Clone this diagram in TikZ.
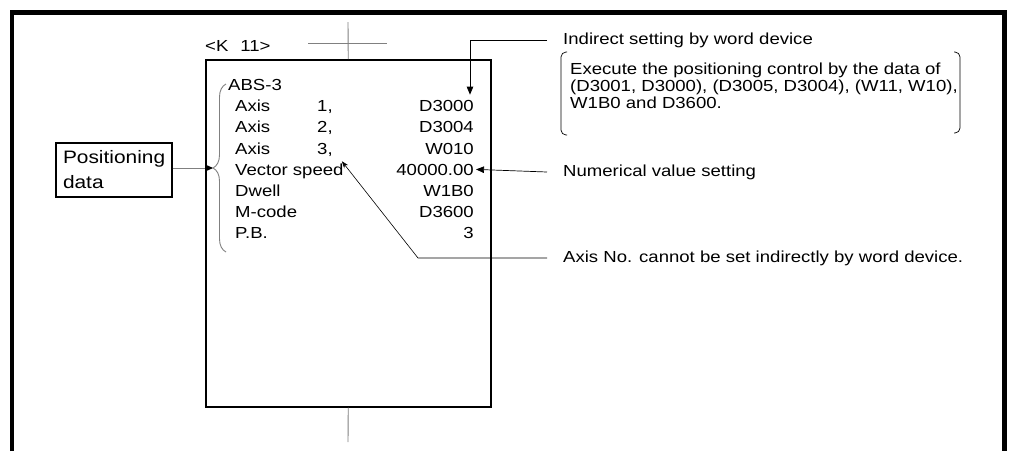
\documentclass[tikz,border=0pt]{standalone}
\usepackage{fontspec}
\setmainfont{Liberation Sans}[FakeStretch=1.16]
\usepackage{tikz}
\usetikzlibrary{arrows.meta, positioning, calc, decorations.pathreplacing}
\definecolor{mygray}{RGB}{128,128,128}
\tikzset{
  frame/.style={line width=4.5pt, color=black, line join=miter},
  progbox/.style={rectangle, draw=black, line width=1.5pt, inner sep=0pt},
  row/.style={inner sep=0pt, text height=11.5pt, text depth=0pt,
    font=\fontsize{16}{16}\selectfont},
  note/.style={anchor=west, inner sep=0pt, font=\fontsize{16}{17}\selectfont},
  databox/.style={rectangle, draw=black, line width=1.2pt, align=left,
    text width=102pt, minimum width=116pt, minimum height=54pt,
    inner xsep=7pt, inner ysep=0pt, font=\fontsize{18}{25}\selectfont},
  arrow/.style={-{Triangle[length=8pt, width=6.5pt]}, line width=0.7pt, color=black},
  smallarrow/.style={-{Stealth[length=7pt, width=5pt]}, line width=0.6pt, color=black},
  grayarrow/.style={-{Triangle[length=8pt, width=7pt, color=black]}, line width=0.9pt, color=mygray},
  guide/.style={line width=0.9pt, color=mygray},
  leader/.style={line width=0.7pt, color=black}
}

\begin{document}
\begin{tikzpicture}[x=1pt, y=-1pt, node distance=9.2pt]
  \useasboundingbox (0,0) rectangle (1009,451);
  \draw[frame] (12,451) -- (12,12.5) -- (1004.5,12.5) -- (1004.5,451);

  % program box
  \node[progbox, minimum width=285pt, minimum height=347pt, anchor=north west] (prog) at (205,59) {};
  \draw[guide] (prog.north) -- (348,22);
  \draw[guide] (308,43) -- (387,43);
  \draw[guide] (prog.south) -- (348,442);
  \node[row, anchor=west] (klabel) at (205,46) {<K\hspace{12pt}11>};

  \coordinate (ncol) at (317,0);
  \coordinate (vcol) at (474,0);
  \node[row, anchor=west] (abs) at (228,85) {ABS-3};
  \node[row, below=of abs.south west, anchor=north west, xshift=7pt] (a1) {Axis};
  \node[row, below=of a1.south west, anchor=north west] (a2) {Axis};
  \node[row, below=of a2.south west, anchor=north west] (a3) {Axis};
  \node[row, below=of a3.south west, anchor=north west] (a4) {Vector speed};
  \node[row, below=of a4.south west, anchor=north west] (a5) {Dwell};
  \node[row, below=of a5.south west, anchor=north west] (a6) {M-code};
  \node[row, below=of a6.south west, anchor=north west] (a7) {P.B.};
  \node[row, anchor=west] (n1) at (a1.west -| ncol) {1,};
  \node[row, anchor=west] (n2) at (a2.west -| ncol) {2,};
  \node[row, anchor=west] (n3) at (a3.west -| ncol) {3,};
  \node[row, anchor=east] (v1) at (a1.west -| vcol) {D3000};
  \node[row, anchor=east] (v2) at (a2.west -| vcol) {D3004};
  \node[row, anchor=east] (v3) at (a3.west -| vcol) {W010};
  \node[row, anchor=east] (v4) at (a4.west -| vcol) {40000.00};
  \node[row, anchor=east] (v5) at (a5.west -| vcol) {W1B0};
  \node[row, anchor=east] (v6) at (a6.west -| vcol) {D3600};
  \node[row, anchor=east] (v7) at (a7.west -| vcol) {3};

  % positioning data
  \draw[guide, decorate, decoration={brace, amplitude=13pt}] (226,252) -- (226,84);
  \coordinate (btip) at (213,168);
  \node[databox] (posdata) at (114,170) {Positioning\\data};
  \draw[grayarrow] (posdata.east |- btip) -- (btip);

  % notes
  \node[note] (ind) at (563,40) {Indirect setting by word device};
  \node[note, anchor=north west, align=left] (exec) at (570,63)
    {Execute the positioning control by the data of\\(D3001, D3000), (D3005, D3004), (W11, W10),\\W1B0 and D3600.};
  \draw[leader, rounded corners=5pt] (567,52) -| (561,93.5) |- (567,135);
  \draw[leader, rounded corners=5pt] (954,52) -| (960,93.5) |- (954,133);
  \node[note] (num) at (563,172) {Numerical value setting};
  \node[note] (axno) at (563,258) {Axis No. cannot be set indirectly by word device.};

  \draw[arrow] ([xshift=-16pt]ind.west) -| ([xshift=-4pt, yshift=5.5pt]v1.north east);
  \draw[arrow] ([xshift=-16pt]num.west) -- ([xshift=2pt]v4.east);
  \draw[smallarrow] ([xshift=-16pt]axno.west) -- ++(-129pt,0) -- ([xshift=9pt, yshift=-7pt]n3.south east);
\end{tikzpicture}
\end{document}
